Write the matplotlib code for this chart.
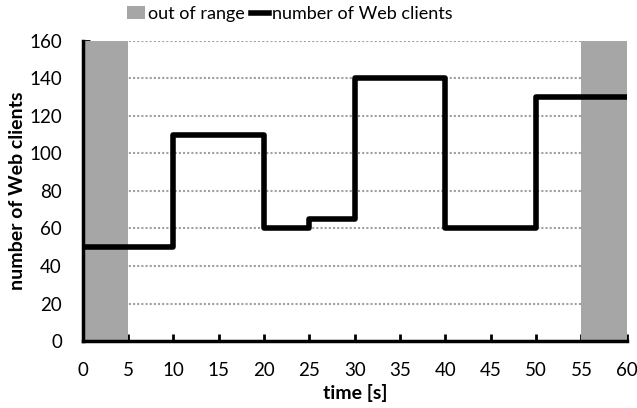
import matplotlib
matplotlib.use("Agg")
import matplotlib.pyplot as plt
from matplotlib.patches import Patch
from matplotlib.lines import Line2D

plt.rcParams['font.family'] = ['Lato', 'DejaVu Sans']

time_s = [0, 10, 20, 25, 30, 40, 50, 60]
clients = [50, 110, 60, 65, 140, 60, 130, 130]
out_of_range = [(0, 5), (55, 60)]
x_ticks = list(range(0, 61, 5))
y_ticks = list(range(0, 161, 20))

fig = plt.figure(figsize=(6.37, 4.08), dpi=100)
ax = fig.add_axes([0.130, 0.164, 0.854, 0.736])

for y in y_ticks[1:]:
    ax.axhline(y, color='#a0a0a0', lw=1.5, ls=(0, (1, 1)), zorder=1)

for a, b in out_of_range:
    ax.axvspan(a, b, color='#a6a6a6', lw=0, zorder=2)

ax.step(time_s, clients, where='post', color='black', lw=4.0, zorder=3,
        solid_joinstyle='round', solid_capstyle='butt')

ax.set_xlim(0, 60)
ax.set_ylim(0, 160)
ax.set_xticks(x_ticks)
ax.set_yticks(y_ticks)
ax.tick_params(direction='in', length=5, width=2, labelsize=13.5)
ax.tick_params(axis='x', pad=15)
ax.tick_params(axis='y', pad=15)
for s in ['top', 'right']:
    ax.spines[s].set_visible(False)
for s in ['left', 'bottom']:
    ax.spines[s].set_linewidth(2.5)
    ax.spines[s].set_zorder(4)

ax.set_xlabel('time [s]', fontsize=14, fontweight='bold', labelpad=4)
ax.set_ylabel('number of Web clients', fontsize=14, fontweight='bold', labelpad=2)

handles = [Patch(facecolor='#a6a6a6', edgecolor='none'),
           Line2D([], [], color='black', lw=4.0)]
fig.legend(handles, ['out of range', 'number of Web clients'], loc='upper center',
           bbox_to_anchor=(0.455, 1.025), ncol=2, frameon=False, fontsize=13,
           handlelength=1.0, handletextpad=0.2, columnspacing=0.3)

fig.savefig('out.png', dpi=100)
